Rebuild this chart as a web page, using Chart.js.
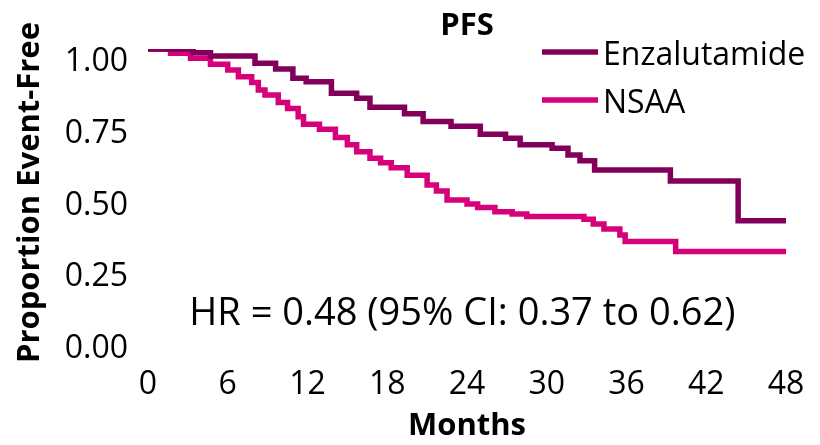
<!DOCTYPE html>
<html>
<head>
<meta charset="utf-8">
<script src="https://cdn.jsdelivr.net/npm/chart.js@4.4.1/dist/chart.umd.min.js"></script>
<style>
  html, body { margin: 0; padding: 0; background: #fff; }
  #wrap { width: 820px; height: 445px; }
</style>
</head>
<body>
<div id="wrap"><canvas id="pfsChart" width="820" height="445"></canvas></div>
<script>
// Kaplan-Meier steps (month of drop, survival after it)
const enzaMonths = [0, 3.4, 4.7, 8.05, 9.6, 10.9, 11.9, 13.8, 15.7, 16.7, 19.3, 20.7, 22.8, 25.0, 26.9, 28.0, 30.4, 31.6, 32.5, 33.6, 39.3, 44.4, 48];
const enzaSurv   = [1.0, 0.987, 0.976, 0.950, 0.930, 0.898, 0.886, 0.846, 0.828, 0.797, 0.774, 0.747, 0.731, 0.703, 0.689, 0.666, 0.654, 0.631, 0.611, 0.578, 0.540, 0.402, 0.402];

const nsaaMonths = [0, 1.7, 3.2, 4.7, 6.0, 6.8, 7.8, 8.3, 8.8, 9.8, 10.5, 11.3, 11.7, 12.9, 14.1, 15.0, 15.7, 16.7, 17.5, 18.3, 19.5, 21.0, 21.7, 22.5, 24.0, 24.8, 26.1, 27.4, 28.5, 32.8, 33.5, 34.3, 35.5, 35.9, 39.7, 48];
const nsaaSurv   = [1.0, 0.985, 0.968, 0.947, 0.927, 0.903, 0.883, 0.857, 0.840, 0.814, 0.793, 0.764, 0.738, 0.720, 0.692, 0.666, 0.642, 0.619, 0.604, 0.586, 0.560, 0.526, 0.505, 0.474, 0.460, 0.448, 0.433, 0.425, 0.416, 0.407, 0.390, 0.373, 0.352, 0.329, 0.294, 0.294];

const seriesNames = ['Enzalutamide', 'NSAA'];
const xTicks = [0, 6, 12, 18, 24, 30, 36, 42, 48];
const yTicks = [0, 0.25, 0.5, 0.75, 1.0];
const hrText = 'HR = 0.48 (95% CI: 0.37 to 0.62)';

const FONT = '"Open Sans", Lato, "DejaVu Sans", sans-serif';
const enzaColor = '#82005a';
const nsaaColor = '#d6007a';

function toPoints(months, surv) {
  return months.map((m, i) => ({ x: m, y: surv[i] }));
}

// title, legend and the HR note are drawn over the plot
const overlay = {
  id: 'overlay',
  afterDraw(chart) {
    const ctx = chart.ctx;
    const area = chart.chartArea;
    const xs = chart.scales.x;
    const ys = chart.scales.y;
    ctx.save();
    ctx.fillStyle = '#000';
    ctx.textAlign = 'center';
    ctx.textBaseline = 'middle';

    // title
    ctx.font = 'bold 31px ' + FONT;
    ctx.fillText('PFS', (area.left + area.right) / 2, 26);

    // legend
    const colors = [enzaColor, nsaaColor];
    const lx = area.right - 244;
    ctx.font = '32px ' + FONT;
    ctx.textAlign = 'left';
    seriesNames.forEach((name, i) => {
      const y = 52 + i * 48;
      ctx.strokeStyle = colors[i];
      ctx.lineWidth = 5.5;
      ctx.beginPath();
      ctx.moveTo(lx, y);
      ctx.lineTo(lx + 56, y);
      ctx.stroke();
      ctx.fillText(name, lx + 61, y + 4);
    });

    // hazard ratio note
    ctx.textAlign = 'center';
    ctx.font = '38px ' + FONT;
    ctx.fillText(hrText, xs.getPixelForValue(23.65), ys.getPixelForValue(0.09) + 4);
    ctx.restore();
  }
};

new Chart(
  document.getElementById('pfsChart'),
  {
    type: 'line',
    data: {
      datasets: [
        {
          label: seriesNames[0],
          data: toPoints(enzaMonths, enzaSurv),
          borderColor: enzaColor,
          borderWidth: 5.5,
          stepped: true,
          pointRadius: 0,
          fill: false
        },
        {
          label: seriesNames[1],
          data: toPoints(nsaaMonths, nsaaSurv),
          borderColor: nsaaColor,
          borderWidth: 5.5,
          stepped: true,
          pointRadius: 0,
          fill: false
        }
      ]
    },
    options: {
      responsive: false,
      animation: false,
      layout: { padding: { top: 49, right: 34, left: 12, bottom: 0 } },
      plugins: {
        legend: { display: false },
        tooltip: { enabled: false }
      },
      scales: {
        x: {
          type: 'linear',
          min: 0,
          max: 48,
          afterBuildTicks: scale => { scale.ticks = xTicks.map(v => ({ value: v })); },
          afterFit: scale => {
            scale.height = 109;
            scale.paddingLeft = 0;
            scale.paddingRight = 0;
          },
          grid: { display: false, drawTicks: false },
          border: { display: false },
          ticks: { color: '#000', font: { family: FONT, size: 32 }, padding: 30 },
          title: {
            display: true,
            text: 'Months',
            color: '#000',
            font: { family: FONT, size: 31, weight: 'bold' },
            padding: 0
          }
        },
        y: {
          min: 0,
          max: 1,
          afterBuildTicks: scale => { scale.ticks = yTicks.map(v => ({ value: v })); },
          afterFit: scale => { scale.width = 136; },
          grid: { display: false, drawTicks: false },
          border: { display: false },
          ticks: {
            color: '#000',
            font: { family: FONT, size: 32 },
            padding: 20,
            labelOffset: 13,
            callback: v => v.toFixed(2)
          },
          title: {
            display: true,
            text: 'Proportion Event-Free',
            color: '#000',
            font: { family: FONT, size: 31, weight: 'bold' },
            padding: 0
          }
        }
      }
    },
    plugins: [overlay]
  }
);
</script>
</body>
</html>
